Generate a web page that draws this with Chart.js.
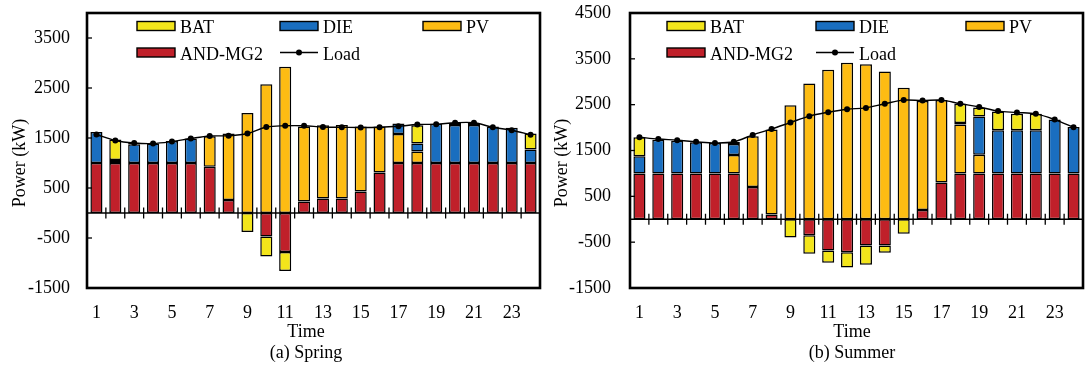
<!DOCTYPE html>
<html>
<head>
<meta charset="utf-8">
<script src="https://cdn.jsdelivr.net/npm/chart.js@4.4.1/dist/chart.umd.min.js"></script>
<style>
  html, body { margin: 0; padding: 0; background: #fff; }
  #wrap { display: flex; width: 1088px; height: 365px; }
  .panel { position: relative; width: 544px; height: 365px; }
</style>
</head>
<body>
<div id="wrap">
  <div class="panel"><canvas id="spring" width="544" height="365"></canvas></div>
  <div class="panel"><canvas id="summer" width="544" height="365"></canvas></div>
</div>
<script>
// Hour of day
const hours = ['1','2','3','4','5','6','7','8','9','10','11','12',
               '13','14','15','16','17','18','19','20','21','22','23','24'];

// Spring dispatch (kW)
const springAND  = [1000,1000,1000,1000,1000,1000, 925, 260,   0,-470,-780, 230, 290, 290, 430, 810,1000,1000,1000,1000,1000,1000,1000,1000];
const springPV   = [   0,   0,   0,   0,   0,   0, 610,1330,2000,2575,2925,1500,1465,1470,1300, 920, 580, 230,   0,   0,   0,   0,   0,   0];
const springDIE  = [ 620,  60, 375, 390, 440, 490,   0,   0,   0,   0,   0,   0,   0,   0,   0,   0, 210, 160, 785, 760, 760, 730, 705, 270];
const springBAT  = [   0, 410,  30,   0,   0,   0,   0,   0,-380,-400,-380,   0,   0,   0,   0,   0,   0, 365,   0,  40,  40,   0,   0, 320];
const springLoad = [1570,1450,1400,1390,1430,1490,1540,1545,1590,1720,1745,1745,1720,1715,1710,1715,1735,1770,1775,1805,1805,1715,1655,1565];

// Summer dispatch (kW)
const summerAND  = [1000,1000,1000,1000,1000,1000, 705, 105,   0,-350,-680,-720,-570,-570,   0, 200, 800,1000,1000,1000,1000,1000,1000,1000];
const summerPV   = [   0,   0,   0,   0,   0, 400,1105,1855,2490,2960,3260,3415,3380,3225,2870,2380,1800,1070, 405,   0,   0,   0,   0,   0];
const summerDIE  = [ 375, 735, 715, 680, 665, 240,   0,   0,   0,   0,   0,   0,   0,   0,   0,   0,   0,  30, 835, 940, 940, 940,1175,1015];
const summerBAT  = [ 415,   0,   0,   0,   0,  45,   0,   0,-400,-400,-270,-330,-420,-160,-315,   0,   0, 420, 200, 410, 360, 360,   0,   0];
const summerLoad = [1790,1750,1725,1690,1665,1690,1840,1970,2110,2250,2335,2400,2430,2520,2600,2590,2600,2520,2450,2360,2330,2300,2175,2005];

// Power axis ticks
const springTicks = [-1500, -500, 500, 1500, 2500, 3500];
const summerTicks = [-1500, -500, 500, 1500, 2500, 3500, 4500];

const FONT = "'Liberation Serif', 'Times New Roman', serif";
const COLORS = { BAT: '#F3E51B', DIE: '#1A6EBF', PV: '#FDBC13', AND: '#C0202A' };

// Frame, zero axis, tick marks, legend and titles
const decorPlugin = {
  id: 'decor',
  afterDatasetsDraw(chart, args, o) {
    const { ctx, chartArea: a, scales: { x, y } } = chart;
    ctx.save();
    ctx.strokeStyle = '#000';
    ctx.fillStyle = '#000';

    // zero line with hour separators crossing it
    const y0 = y.getPixelForValue(0);
    ctx.lineWidth = 1.6;
    ctx.beginPath(); ctx.moveTo(a.left, y0); ctx.lineTo(a.right, y0); ctx.stroke();
    ctx.lineWidth = 1.3;
    for (let i = 1; i < x.ticks.length; i++) {
      const px = (x.getPixelForTick(i - 1) + x.getPixelForTick(i)) / 2;
      ctx.beginPath(); ctx.moveTo(px, y0 - 5.5); ctx.lineTo(px, y0 + 5.5); ctx.stroke();
    }

    // inward ticks on the power axis
    y.ticks.forEach(t => {
      const py = y.getPixelForValue(t.value);
      ctx.beginPath(); ctx.moveTo(a.left, py); ctx.lineTo(a.left + 5, py); ctx.stroke();
    });

    // plot frame
    ctx.lineWidth = 2.6;
    ctx.strokeRect(a.left, a.top, a.right - a.left, a.bottom - a.top);

    // legend (two rows inside the frame)
    ctx.font = '18px ' + FONT;
    ctx.textAlign = 'left';
    ctx.textBaseline = 'alphabetic';
    const rows = [a.top + 13, a.top + 39.5];
    const entries = [
      { text: 'BAT', color: COLORS.BAT, col: 0, row: 0 },
      { text: 'DIE', color: COLORS.DIE, col: 1, row: 0 },
      { text: 'PV', color: COLORS.PV, col: 2, row: 0 },
      { text: 'AND-MG2', color: COLORS.AND, col: 0, row: 1 },
      { text: 'Load', line: true, col: 1, row: 1 }
    ];
    entries.forEach(e => {
      const lx = a.left + o.legendCols[e.col];
      const cy = rows[e.row];
      if (e.line) {
        ctx.lineWidth = 1.5;
        ctx.beginPath(); ctx.moveTo(lx, cy); ctx.lineTo(lx + 38, cy); ctx.stroke();
        ctx.beginPath(); ctx.arc(lx + 19, cy, 3, 0, Math.PI * 2); ctx.fill();
      } else {
        ctx.fillStyle = e.color;
        ctx.fillRect(lx, cy - 4.5, 38, 9);
        ctx.lineWidth = 1.4;
        ctx.strokeRect(lx, cy - 4.5, 38, 9);
        ctx.fillStyle = '#000';
      }
      ctx.fillText(e.text, lx + 43, cy + 7);
    });

    // axis titles and caption
    ctx.textAlign = 'center';
    ctx.fillText('Time', o.titleX, 337);
    ctx.fillText(o.caption, o.titleX, 358);
    ctx.translate(o.yTitleX, o.yTitleY);
    ctx.rotate(-Math.PI / 2);
    ctx.fillText('Power (kW)', 0, 0);
    ctx.restore();
  }
};

function nz(arr) { return arr.map(v => (v === 0 ? null : v)); }

function barSet(label, values, color) {
  return {
    type: 'bar', label, data: nz(values), stack: 'supply', order: 1,
    backgroundColor: color, borderColor: '#000', borderWidth: 1.5, borderSkipped: false,
    barPercentage: 0.64, categoryPercentage: 1.0
  };
}

function makeChart(id, p) {
  return new Chart(document.getElementById(id), {
    data: {
      labels: hours,
      datasets: [
        barSet('AND-MG2', p.and, COLORS.AND),
        barSet('PV', p.pv, COLORS.PV),
        barSet('DIE', p.die, COLORS.DIE),
        barSet('BAT', p.bat, COLORS.BAT),
        {
          type: 'line', label: 'Load', data: p.load, stack: 'load', order: 0,
          borderColor: '#000', borderWidth: 1.4, tension: 0.35,
          pointRadius: 3, pointBackgroundColor: '#000', pointBorderWidth: 0
        }
      ]
    },
    options: {
      responsive: false, animation: false,
      layout: { padding: { top: 13, left: 0, right: p.padRight, bottom: 0 } },
      plugins: { legend: { display: false }, tooltip: { enabled: false }, decor: p.decor },
      scales: {
        x: {
          stacked: true, offset: true,
          grid: { display: false, drawTicks: false }, border: { display: false },
          ticks: {
            color: '#000', font: { family: FONT, size: 18 }, padding: 14,
            autoSkip: false, maxRotation: 0,
            callback: (v, i) => (i % 2 === 0 ? hours[i] : '')
          },
          afterFit: s => {
            s.height = 77;
            s.paddingLeft = 0; s.paddingRight = 0; s.paddingTop = 0; s.paddingBottom = 0;
          }
        },
        y: {
          stacked: true, min: p.ticks[0], max: p.max,
          grid: { display: false, drawTicks: false }, border: { display: false },
          ticks: {
            color: '#000', font: { family: FONT, size: 18 }, padding: p.tickPad,
            callback: v => String(v)
          },
          afterBuildTicks: s => { s.ticks = p.ticks.map(v => ({ value: v })); },
          afterFit: s => {
            s.width = p.left;
            s.paddingLeft = 0; s.paddingRight = 0; s.paddingTop = 0; s.paddingBottom = 0;
          }
        }
      }
    },
    plugins: [decorPlugin]
  });
}

makeChart('spring', {
  and: springAND, pv: springPV, die: springDIE, bat: springBAT, load: springLoad,
  ticks: springTicks, max: 4000, left: 87, padRight: 4, tickPad: 17,
  decor: { legendCols: [50, 193, 336], titleX: 306, caption: '(a) Spring', yTitleX: 24.5, yTitleY: 163 }
});

makeChart('summer', {
  and: summerAND, pv: summerPV, die: summerDIE, bat: summerBAT, load: summerLoad,
  ticks: summerTicks, max: 4500, left: 86, padRight: 5, tickPad: 19,
  decor: { legendCols: [37, 186, 336], titleX: 308, caption: '(b) Summer', yTitleX: 22.5, yTitleY: 163 }
});
</script>
</body>
</html>
